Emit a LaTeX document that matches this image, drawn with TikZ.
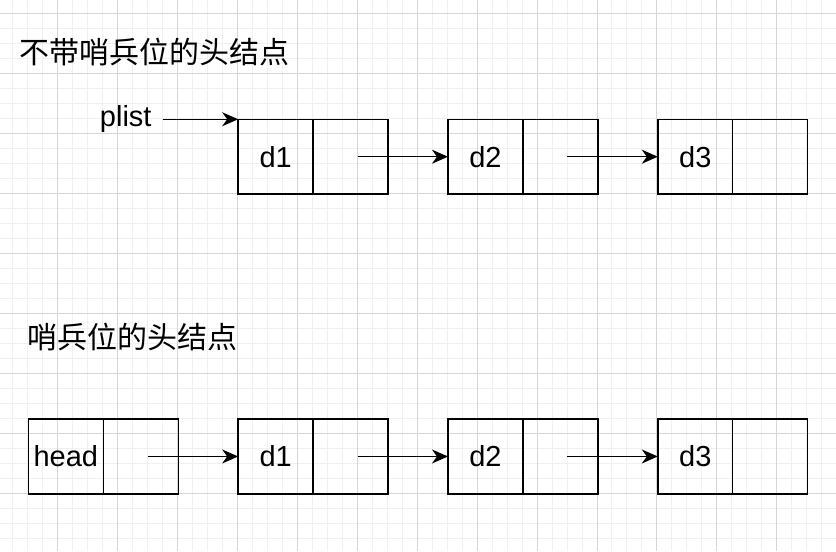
\documentclass[tikz,border=0pt]{standalone}
\usepackage{fontspec}
\setmainfont{Liberation Sans}
\newfontfamily\cjk{Noto Sans CJK SC}
\usetikzlibrary{arrows.meta, positioning}
\tikzset{
  cell/.style={rectangle, draw=black, line width=1.4pt, minimum width=75pt, minimum height=75pt, inner sep=0pt, outer sep=0pt, font=\fontsize{29}{29}\selectfont},
  arrow/.style={line width=1.4pt, -{Stealth[length=16pt, width=14pt, inset=5pt]}},
  ptr/.style={arrow, shorten <=7pt},
  minorgrid/.style={draw=black!6, line width=0.7pt},
  majorgrid/.style={draw=black!16, line width=0.7pt},
  title/.style={anchor=west, inner sep=0pt, font=\cjk\fontsize{30}{30}\selectfont}
}

\begin{document}
\begin{tikzpicture}[x=1pt, y=-1pt, node distance=60pt]
  % 背景网格
  \fill[white] (0,0) rectangle (836,551);
  \foreach \x in {12,27,...,836} \draw[minorgrid] (\x,0) -- (\x,551);
  \foreach \y in {13,28,...,551} \draw[minorgrid] (0,\y) -- (836,\y);
  \foreach \x in {57,117,...,836} \draw[majorgrid] (\x,0) -- (\x,551);
  \foreach \y in {13,73,...,551} \draw[majorgrid] (0,\y) -- (836,\y);
  \useasboundingbox (0,0) rectangle (836,551);

  % 第一行：不带哨兵位
  \node[title] (t1) at (19,52) {不带哨兵位的头结点};
  \node[font=\fontsize{29}{29}\selectfont, inner xsep=11pt, inner ysep=0pt] (plist) at (125.5,119) {plist};
  \node[cell] (a1) at (275.5,156.5) {d1};
  \node[cell, right=0pt of a1] (a1n) {};
  \node[cell, right=of a1n] (a2) {d2};
  \node[cell, right=0pt of a2] (a2n) {};
  \node[cell, right=of a2n] (a3) {d3};
  \node[cell, right=0pt of a3] (a3n) {};

  % 第二行：哨兵位
  \node[title] (t2) at (27,337) {哨兵位的头结点};
  \node[cell] (h) at (65.5,456.5) {head};
  \node[cell, right=0pt of h] (hn) {};
  \node[cell, right=of hn] (b1) {d1};
  \node[cell, right=0pt of b1] (b1n) {};
  \node[cell, right=of b1n] (b2) {d2};
  \node[cell, right=0pt of b2] (b2n) {};
  \node[cell, right=of b2n] (b3) {d3};
  \node[cell, right=0pt of b3] (b3n) {};

  % 箭头
  \draw[arrow] (plist.east |- a1.north west) -- (a1.north west);
  \draw[ptr] (a1n.center) -- (a2.west);
  \draw[ptr] (a2n.center) -- (a3.west);

  \draw[ptr] (hn.center) -- (b1.west);
  \draw[ptr] (b1n.center) -- (b2.west);
  \draw[ptr] (b2n.center) -- (b3.west);
\end{tikzpicture}
\end{document}
